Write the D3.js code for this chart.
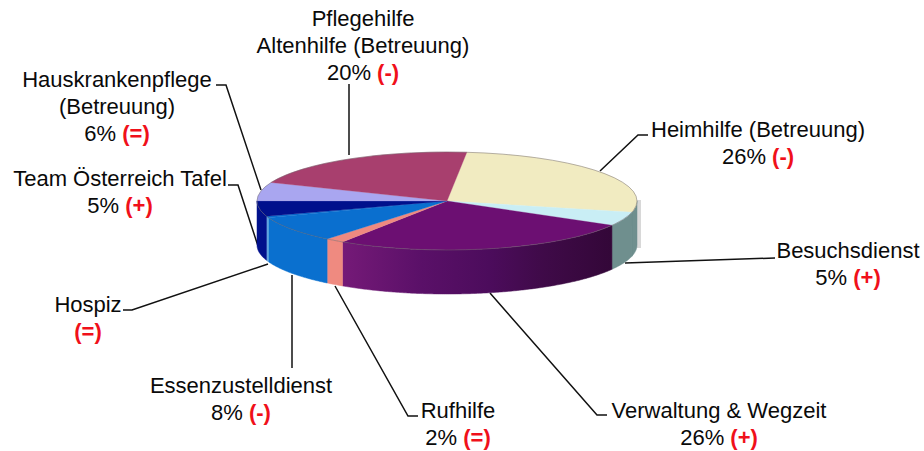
<!DOCTYPE html>
<html><head><meta charset="utf-8">
<script src="https://cdnjs.cloudflare.com/ajax/libs/d3/7.8.5/d3.min.js"></script>
<style>html,body{margin:0;background:#fff}svg{display:block}text{font-family:"Liberation Sans",Arial,sans-serif;font-size:22px;fill:#0a0a0a}.r{fill:#f0101a;font-weight:bold}</style>
</head><body><svg width="924" height="451"></svg>
<script>
const categories=["Heimhilfe","Besuchsdienst","Verwaltung & Wegzeit","Rufhilfe","Essenzustelldienst","Hospiz","Team Österreich Tafel","Hauskrankenpflege","Pflegehilfe"];
const shares=[27,4.6,26,1.6,8.6,0.5,5.1,6.1,20.5];
const topColors=["#f1ebc1","#c9eef5","#6c0f72","#ef8a80","#0a6fcf","#0a6fcf","#00108c","#a9a6f0","#a83f6e"];
const wallColors=["#6f8f8e","#6f8f8e","url(#wallV)","#ef8a80","#0a70cf","#62a6e0","#00108c","#a9a6f0","#a83f6e"];
const labelLines=[
 [["Heimhilfe (Betreuung)"],["26% ","(-)"]],
 [["Besuchsdienst"],["5% ","(+)"]],
 [["Verwaltung & Wegzeit"],["26% ","(+)"]],
 [["Rufhilfe"],["2% ","(=)"]],
 [["Essenzustelldienst"],["8% ","(-)"]],
 [["Hospiz"],["","(=)"]],
 [["Team Österreich Tafel"],["5% ","(+)"]],
 [["Hauskrankenpflege"],["(Betreuung)"],["6% ","(=)"]],
 [["Pflegehilfe"],["Altenhilfe (Betreuung)"],["20% ","(-)"]]
];
const labelX=[758,848,719,458,241,88,120,117,363];
const labelY=[137,258,418,418,393,312,186,87,26];
const leaders=[
 [[600,171],[638,135],[648,135]],
 [[625,263],[775,258]],
 [[490,293],[597,415],[607,415]],
 [[335,286],[408,416],[418,416]],
 [[292,275],[292,368]],
 [[268,264],[132,310],[123,310]],
 [[258,246],[238,185],[228,185]],
 [[261,190],[226,85],[216,85]],
 [[349,155],[349,84]]
];
const cx=447,cy=201,rx=190,ry=49,depth=44;
const svg=d3.select("svg");
const defs=svg.append("defs");
const g=defs.append("linearGradient").attr("id","wallV").attr("gradientUnits","userSpaceOnUse").attr("x1",340).attr("x2",612).attr("y1",0).attr("y2",0);
[[0,"#761a78"],[.3,"#5a1068"],[.55,"#4c0c5c"],[.75,"#3f0a48"],[1,"#330738"]].forEach(s=>g.append("stop").attr("offset",s[0]).attr("stop-color",s[1]));
const line=d3.line();
leaders.forEach(l=>svg.append("path").attr("d",line(l)).attr("fill","none").attr("stroke","#111").attr("stroke-width",1.5));
const pie=d3.pie().sort(null).startAngle(6*Math.PI/180).endAngle(366*Math.PI/180);
const arcs=pie(shares);
const px=a=>cx+rx*Math.sin(a),py=a=>cy-ry*Math.cos(a);
svg.append("rect").attr("x",636).attr("y",200).attr("width",5).attr("height",48).attr("fill","#d8d8d8");
const wallG=svg.append("g");
arcs.forEach((d,i)=>{
  const lo=Math.max(d.startAngle,Math.PI/2),hi=Math.min(d.endAngle,3*Math.PI/2);
  if(hi<=lo)return;
  const ts=d3.range(lo,hi,0.01).concat([hi]);
  const pts=ts.map(t=>[px(t),py(t)]).concat(ts.slice().reverse().map(t=>[px(t),py(t)+depth]));
  wallG.append("path").attr("d",line(pts)+"Z").attr("fill",wallColors[i]).attr("stroke",wallColors[i]).attr("stroke-width",.5);
});
const arc=d3.arc().innerRadius(0).outerRadius(rx);
const face=svg.append("g").attr("transform",`translate(${cx},${cy}) scale(1,${ry/rx})`);
face.selectAll("path").data(arcs).join("path").attr("d",arc).attr("fill",(d,i)=>topColors[i]).attr("stroke",(d,i)=>topColors[i]).attr("stroke-width",.5);
svg.append("ellipse").attr("cx",cx).attr("cy",cy).attr("rx",rx).attr("ry",ry).attr("fill","none").attr("stroke","#6b6468").attr("stroke-width",.8).attr("stroke-opacity",.6);
labelLines.forEach((lines,i)=>{
  lines.forEach((parts,j)=>{
    const t=svg.append("text").attr("x",labelX[i]).attr("y",labelY[i]+j*27).attr("text-anchor","middle");
    parts.forEach((p,k)=>t.append("tspan").text(p).attr("class",k==1?"r":null).style("white-space","pre"));
  });
});
</script></body></html>
